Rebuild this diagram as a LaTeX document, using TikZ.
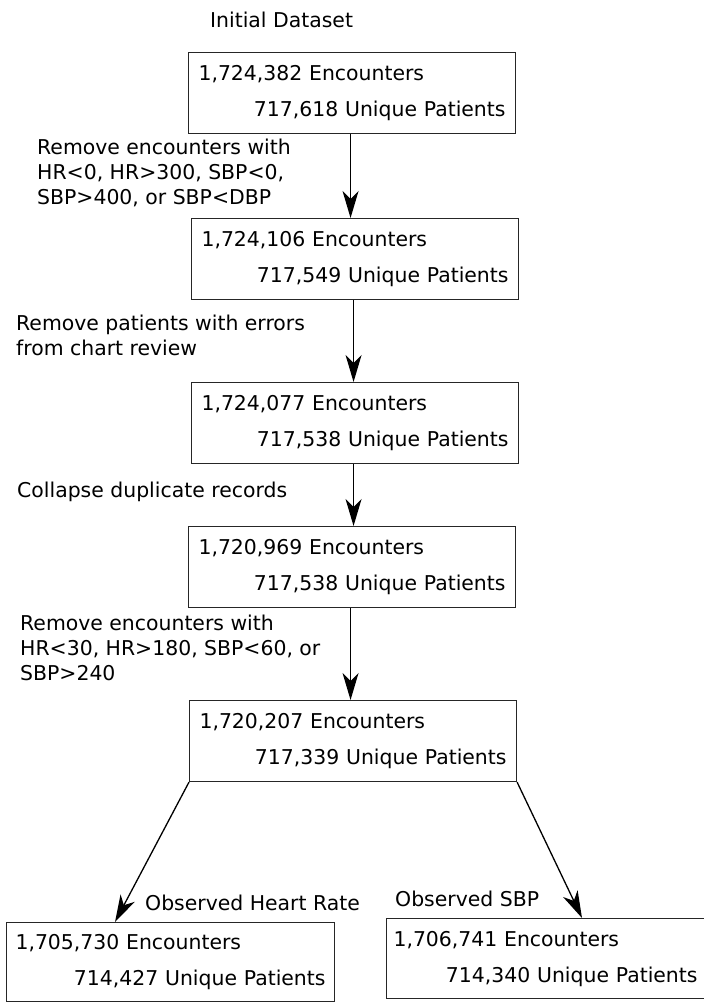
\documentclass[tikz,border=0pt]{standalone}
\usepackage{fontspec}
\setmainfont{DejaVu Sans}
\usetikzlibrary{arrows.meta}

\newcommand{\counts}[2]{#1\\\hspace*{\fill}#2}

\begin{document}
\begin{tikzpicture}[
        x = 1pt, y = -1pt,
        every node/.style = {font = \fontsize{20.4}{25}\selectfont},
        stage/.style = {draw = black!85, line width = 1.1pt, rectangle, anchor = north west,
                        minimum width = 327pt, minimum height = 81pt, inner xsep = 10pt,
                        text width = 307pt, align = left,
                        font = \fontsize{20.4}{36}\selectfont},
        note/.style = {anchor = north west, inner sep = 0pt, align = left},
        flow/.style = {draw = black, line width = 1.3pt,
                       -{Stealth[length = 27pt, width = 16pt, inset = 8pt]}}
      ]
      \useasboundingbox (0, 0) rectangle (704, 1002);
      % boxes
      \node[stage] (b1) at (188,  52) {\counts{1,724,382 Encounters}{717,618 Unique Patients}};
      \node[stage] (b2) at (191, 218) {\counts{1,724,106 Encounters}{717,549 Unique Patients}};
      \node[stage] (b3) at (191, 382) {\counts{1,724,077 Encounters}{717,538 Unique Patients}};
      \node[stage] (b4) at (188, 526) {\counts{1,720,969 Encounters}{717,538 Unique Patients}};
      \node[stage] (b5) at (189, 700) {\counts{1,720,207 Encounters}{717,339 Unique Patients}};
      \node[stage, minimum width = 328pt, minimum height = 79pt, inner xsep = 9pt,
            text width = 310pt] (hr) at (6, 922) {\counts{1,705,730 Encounters}{714,427 Unique Patients}};
      \node[stage, minimum width = 318pt, minimum height = 80pt, inner xsep = 7pt,
            text width = 304pt] (sbp) at (386, 918) {\counts{1,706,741 Encounters}{714,340 Unique Patients}};
      % step labels
      \node[note] (start) at (210, 12) {Initial Dataset};
      \node[note] (s1) at (37, 139) {Remove encounters with\\HR<0, HR>300, SBP<0,\\SBP>400, or SBP<DBP};
      \node[note] (s2) at (16, 315) {Remove patients with errors\\from chart review};
      \node[note] (s3) at (17, 482) {Collapse duplicate records};
      \node[note] (s4) at (20, 615) {Remove encounters with\\HR<30, HR>180, SBP<60, or\\SBP>240};
      \node[note] (lhr) at (145, 895) {Observed Heart Rate};
      \node[note] (lsbp) at (395, 891) {Observed SBP};
      % arrows
      \draw[flow] ([xshift = -1.5pt]b1.south) -- ([xshift = -1.5pt]b1.south |- b2.north);
      \draw[flow] ([xshift = -1.5pt]b2.south) -- ([xshift = -1.5pt]b2.south |- b3.north);
      \draw[flow] ([xshift = -1.5pt]b3.south) -- ([xshift = -1.5pt]b3.south |- b4.north);
      \draw[flow] ([xshift = -1.5pt]b4.south) -- ([xshift = -1.5pt]b4.south |- b5.north);
      \draw[flow] (b5.south west) -- ([xshift = 109pt]hr.north west);
      \draw[flow] (b5.south east) -- ([xshift = 196pt]sbp.north west);
    \end{tikzpicture}
\end{document}
